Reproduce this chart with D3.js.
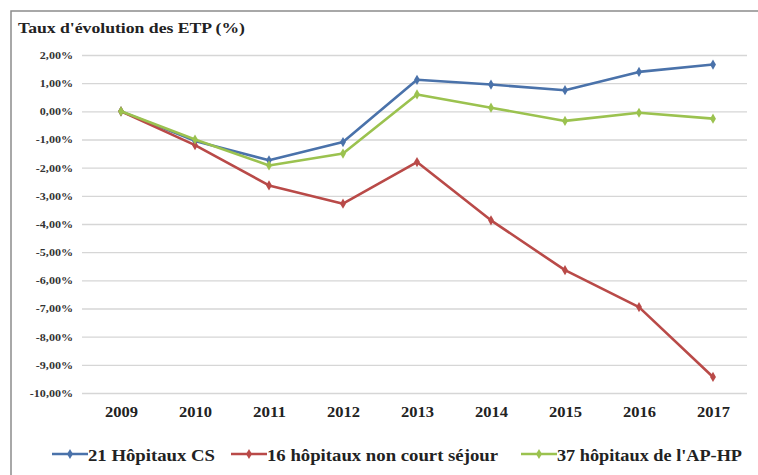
<!DOCTYPE html>
<html><head><meta charset="utf-8">
<script src="https://cdn.jsdelivr.net/npm/d3@7/dist/d3.min.js"></script>
<style>body{margin:0;background:#fff}svg{display:block}</style>
</head><body><svg id="c" width="758" height="475"></svg>
<script>
const years = ["2009","2010","2011","2012","2013","2014","2015","2016","2017"];
const cs = [0, -1.05, -1.74, -1.09, 1.12, 0.95, 0.75, 1.40, 1.66];
const nonCs = [0, -1.20, -2.63, -3.28, -1.80, -3.87, -5.64, -6.95, -9.43];
const aphp = [0, -1.00, -1.92, -1.50, 0.60, 0.13, -0.34, -0.05, -0.26];
const seriesNames = ["21 Hôpitaux CS", "16 hôpitaux non court séjour", "37 hôpitaux de l'AP-HP"];
const yTicks = [2,1,0,-1,-2,-3,-4,-5,-6,-7,-8,-9,-10];
const colors = ["#4a72aa", "#b94a48", "#9bc24f"];

const svg = d3.select("#c");
const FONT = '"Liberation Serif"';
const styleText = sel => sel.style("font-family", FONT).style("font-weight", "bold").style("fill", "#222");

// outer frame
svg.append("rect").attr("x",11).attr("y",11).attr("width",800).attr("height",500)
  .attr("fill","none").attr("stroke","#8c8c8c").attr("stroke-width",1.5);

svg.append("text").attr("x",18).attr("y",33).text("Taux d'évolution des ETP (%)")
  .attr("font-size",15.5).attr("textLength",227).attr("lengthAdjust","spacingAndGlyphs").call(styleText);

const x = d3.scalePoint().domain(years).range([84,750]).padding(0.5);
const y = d3.scaleLinear().domain([-10,2]).range([393,55]);

const fmt = v => v.toFixed(2).replace(".", ",") + "%";

const yAxis = d3.axisLeft(y).tickValues(yTicks).tickSize(-(747-82)).tickFormat(fmt).tickPadding(9);
const gy = svg.append("g").attr("transform","translate(82,0)").call(yAxis);
gy.select(".domain").remove();
gy.selectAll(".tick line").attr("stroke","#d6d6d6").attr("stroke-width",1.3);
gy.selectAll(".tick text").attr("font-size",10.5).call(styleText).style("fill","#333")
  .attr("transform","scale(1.15,1)").attr("x",-9/1.15);

const xAxis = d3.axisBottom(x).tickSize(0).tickPadding(0);
const gx = svg.append("g").attr("transform","translate(0,417)").call(xAxis);
gx.select(".domain").remove();
gx.selectAll(".tick text").attr("font-size",14.5).call(styleText).attr("dy",0).attr("y",0)
  .attr("textLength", 33).attr("lengthAdjust","spacingAndGlyphs");

const data = [cs, nonCs, aphp];
const line = d3.line().x((d,i)=>x(years[i])).y(d=>y(d));
const diamond = d3.symbol().type(d3.symbolDiamond).size(30);

data.forEach((s,k)=>{
  svg.append("path").datum(s).attr("d",line).attr("fill","none")
    .attr("stroke",colors[k]).attr("stroke-width",2.6).attr("stroke-linejoin","round");
  svg.append("g").selectAll("path").data(s).join("path")
    .attr("d",diamond).attr("transform",(d,i)=>`translate(${x(years[i])},${y(d)})`)
    .attr("fill",colors[k]);
});

// legend
const legX = [52, 231, 521];
const legW = [127, 231, 185];
seriesNames.forEach((n,k)=>{
  const g = svg.append("g").attr("transform",`translate(${legX[k]},454)`);
  g.append("line").attr("x1",0).attr("x2",36).attr("y1",0).attr("y2",0)
    .attr("stroke",colors[k]).attr("stroke-width",2.6);
  g.append("path").attr("d",diamond).attr("transform","translate(18,0)").attr("fill",colors[k]);
  g.append("text").attr("x",36).attr("y",6.5).text(n)
    .attr("font-size",17).attr("textLength",legW[k]).attr("lengthAdjust","spacingAndGlyphs").call(styleText);
});
</script></body></html>
